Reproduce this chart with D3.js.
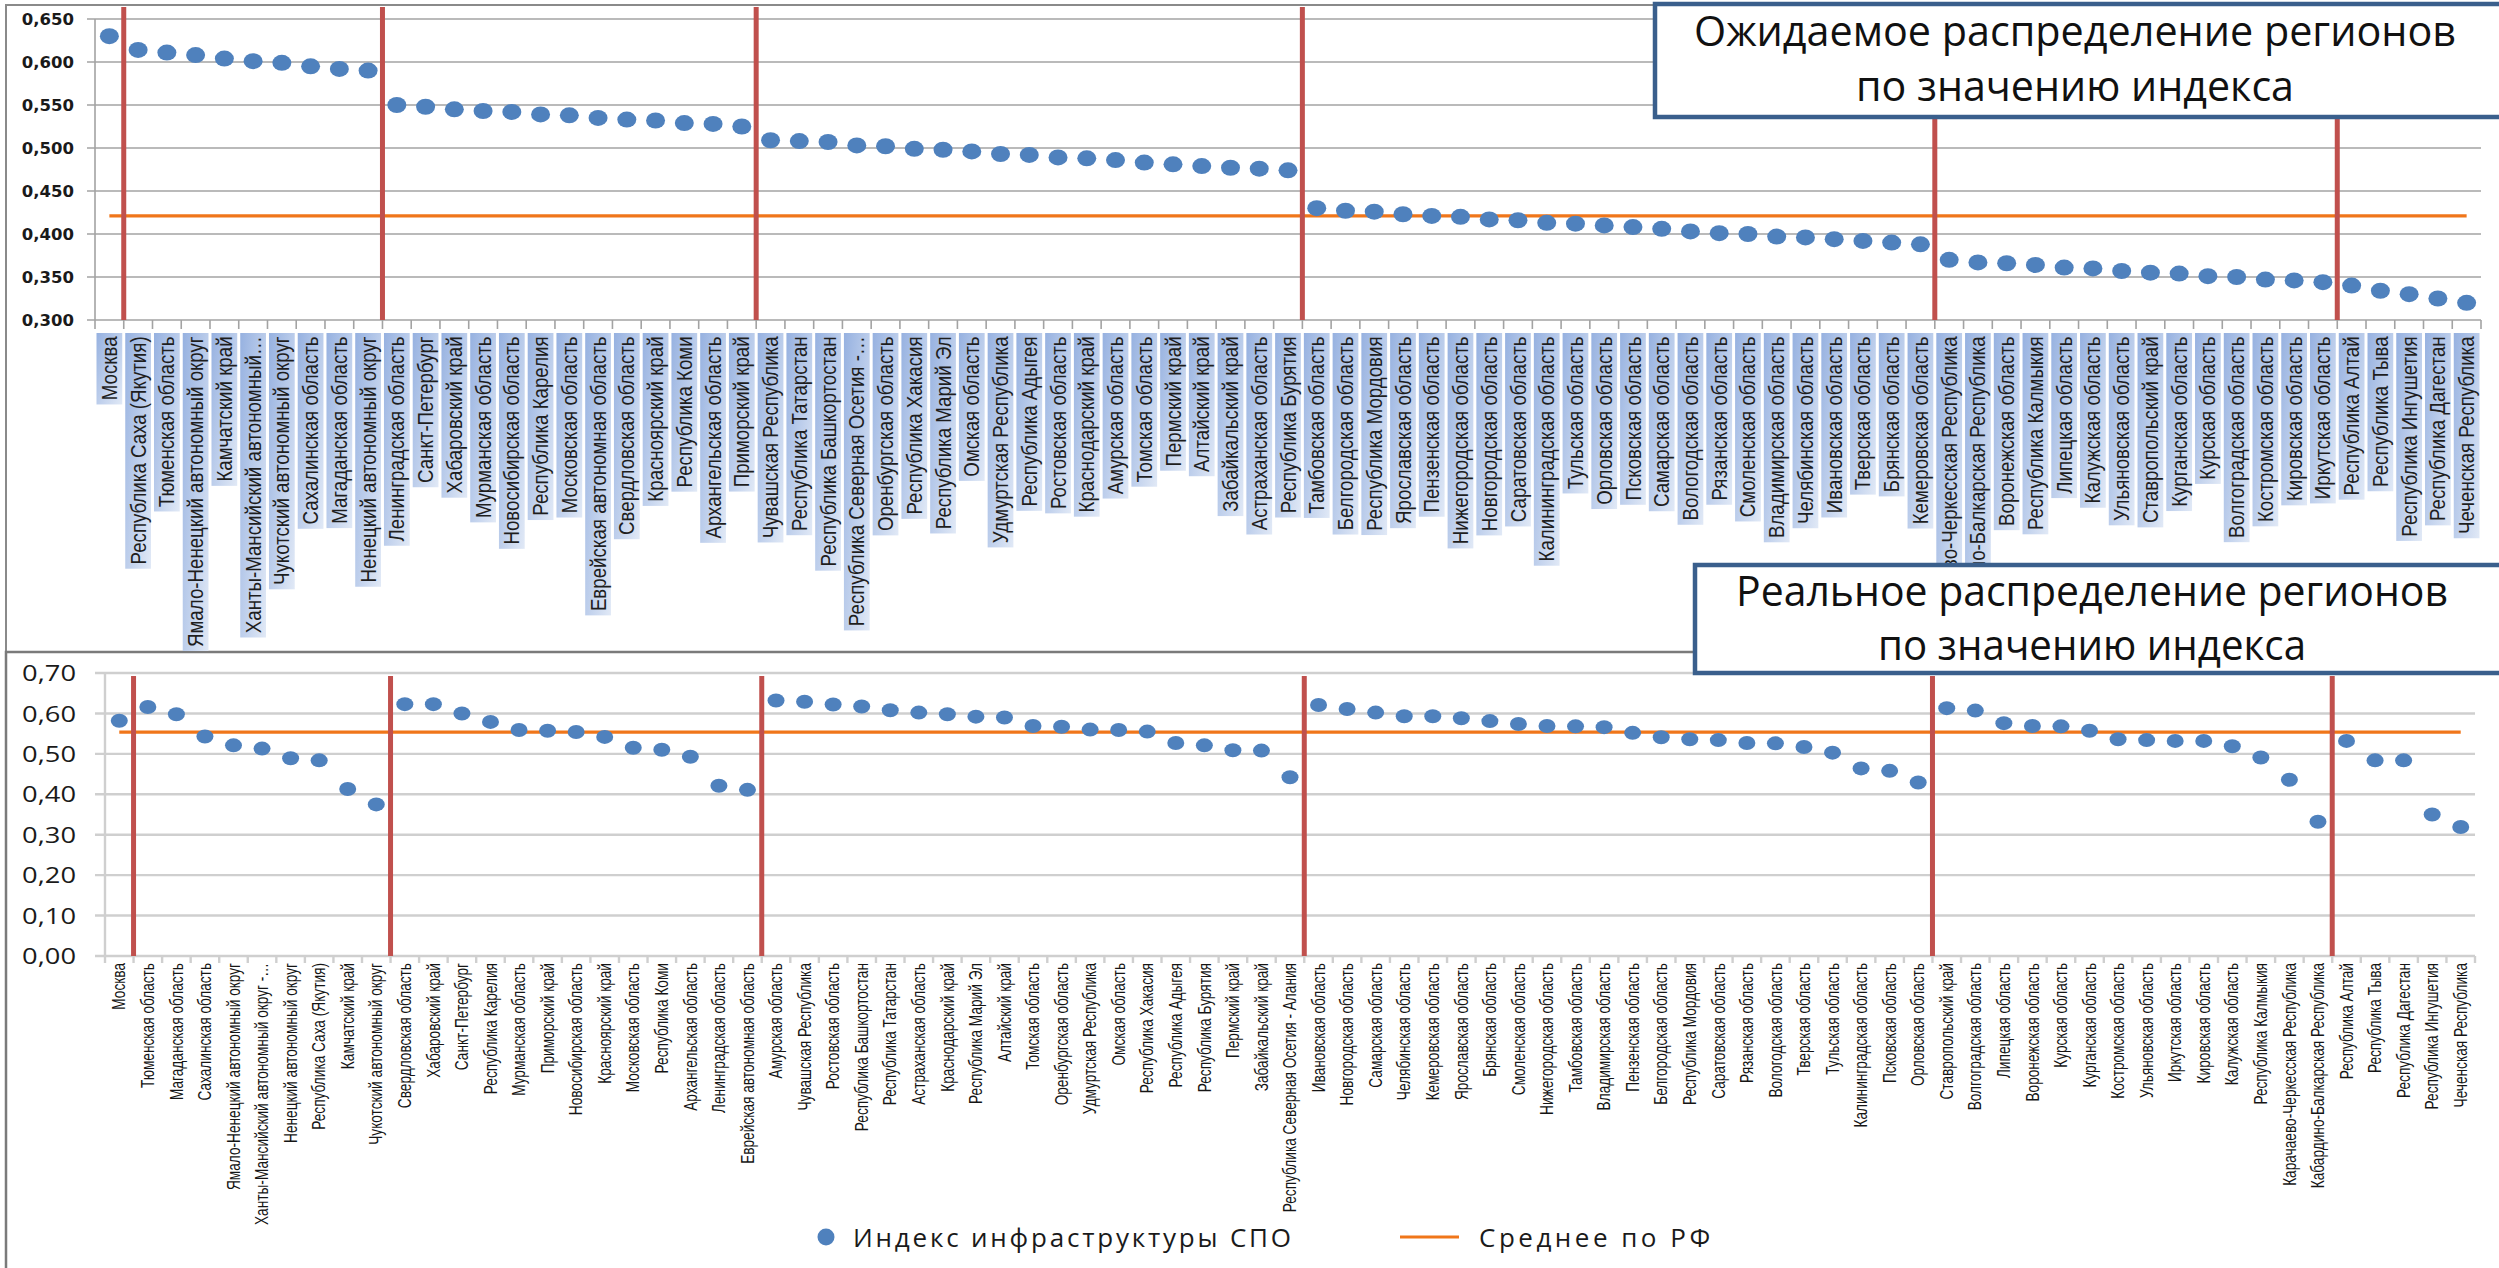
<!DOCTYPE html>
<html><head><meta charset="utf-8">
<script src="https://cdnjs.cloudflare.com/ajax/libs/d3/7.8.5/d3.min.js"></script>
<style>body{margin:0;background:#fff}svg{display:block}</style>
</head><body><svg id="c" width="2499" height="1268"></svg>
<script>
// ---------- DATA ----------
const topCategories = ["Москва","Республика Саха (Якутия)","Тюменская область","Ямало-Ненецкий автономный округ","Камчатский край","Ханты-Мансийский автономный…","Чукотский автономный округ","Сахалинская область","Магаданская область","Ненецкий автономный округ","Ленинградская область","Санкт-Петербург","Хабаровский край","Мурманская область","Новосибирская область","Республика Карелия","Московская область","Еврейская автономная область","Свердловская область","Красноярский край","Республика Коми","Архангельская область","Приморский край","Чувашская Республика","Республика Татарстан","Республика Башкортостан","Республика Северная Осетия -…","Оренбургская область","Республика Хакасия","Республика Марий Эл","Омская область","Удмуртская Республика","Республика Адыгея","Ростовская область","Краснодарский край","Амурская область","Томская область","Пермский край","Алтайский край","Забайкальский край","Астраханская область","Республика Бурятия","Тамбовская область","Белгородская область","Республика Мордовия","Ярославская область","Пензенская область","Нижегородская область","Новгородская область","Саратовская область","Калининградская область","Тульская область","Орловская область","Псковская область","Самарская область","Вологодская область","Рязанская область","Смоленская область","Владимирская область","Челябинская область","Ивановская область","Тверская область","Брянская область","Кемеровская область","Карачаево-Черкесская Республика","Кабардино-Балкарская Республика","Воронежская область","Республика Калмыкия","Липецкая область","Калужская область","Ульяновская область","Ставропольский край","Курганская область","Курская область","Волгоградская область","Костромская область","Кировская область","Иркутская область","Республика Алтай","Республика Тыва","Республика Ингушетия","Республика Дагестан","Чеченская Республика"];
const topValues = [0.630,0.614,0.611,0.608,0.604,0.601,0.599,0.595,0.592,0.590,
0.550,0.548,0.545,0.543,0.542,0.539,0.538,0.535,0.533,0.532,0.529,0.528,0.525,
0.509,0.508,0.507,0.503,0.502,0.499,0.498,0.496,0.493,0.492,0.489,0.488,0.486,0.483,0.481,0.479,0.477,0.476,0.474,
0.430,0.427,0.426,0.423,0.421,0.420,0.417,0.416,0.413,0.412,0.410,0.408,0.406,0.403,0.401,0.400,0.397,0.396,0.394,0.392,0.390,0.388,
0.370,0.367,0.366,0.364,0.361,0.360,0.357,0.355,0.354,0.351,0.350,0.347,0.346,0.344,
0.340,0.334,0.330,0.325,0.320];
const topMean = 0.421;
const topYTicks = [0.30,0.35,0.40,0.45,0.50,0.55,0.60,0.65];
const topDividers = [1,10,23,42,64,78];

const bottomCategories = ["Москва","Тюменская область","Магаданская область","Сахалинская область","Ямало-Ненецкий автономный округ","Ханты-Мансийский автономный округ -…","Ненецкий автономный округ","Республика Саха (Якутия)","Камчатский край","Чукотский автономный округ","Свердловская область","Хабаровский край","Санкт-Петербург","Республика Карелия","Мурманская область","Приморский край","Новосибирская область","Красноярский край","Московская область","Республика Коми","Архангельская область","Ленинградская область","Еврейская автономная область","Амурская область","Чувашская Республика","Ростовская область","Республика Башкортостан","Республика Татарстан","Астраханская область","Краснодарский край","Республика Марий Эл","Алтайский край","Томская область","Оренбургская область","Удмуртская Республика","Омская область","Республика Хакасия","Республика Адыгея","Республика Бурятия","Пермский край","Забайкальский край","Республика Северная Осетия - Алания","Ивановская область","Новгородская область","Самарская область","Челябинская область","Кемеровская область","Ярославская область","Брянская область","Смоленская область","Нижегородская область","Тамбовская область","Владимирская область","Пензенская область","Белгородская область","Республика Мордовия","Саратовская область","Рязанская область","Вологодская область","Тверская область","Тульская область","Калининградская область","Псковская область","Орловская область","Ставропольский край","Волгоградская область","Липецкая область","Воронежская область","Курская область","Курганская область","Костромская область","Ульяновская область","Иркутская область","Кировская область","Калужская область","Республика Калмыкия","Карачаево-Черкесская Республика","Кабардино-Балкарская Республика","Республика Алтай","Республика Тыва","Республика Дагестан","Республика Ингушетия","Чеченская Республика"];
const bottomValues = [0.582,
0.616,0.598,0.543,0.521,0.513,0.489,0.484,0.413,0.375,
0.623,0.623,0.600,0.579,0.559,0.557,0.554,0.542,0.515,0.510,0.493,0.421,0.411,
0.632,0.629,0.622,0.617,0.608,0.602,0.598,0.592,0.590,0.569,0.567,0.560,0.559,0.555,0.527,0.521,0.509,0.508,0.442,
0.621,0.611,0.602,0.593,0.593,0.588,0.581,0.574,0.569,0.568,0.566,0.552,0.541,0.536,0.534,0.527,0.526,0.517,0.503,0.464,0.458,0.429,
0.613,0.607,0.576,0.569,0.568,0.557,0.536,0.534,0.532,0.532,0.519,0.491,0.436,0.332,
0.532,0.484,0.484,0.350,0.319];
const bottomMean = 0.554;
const bottomYTicks = [0,0.1,0.2,0.3,0.4,0.5,0.6,0.7];
const bottomDividers = [1,10,23,42,64,78];

const legendLabels = ["Индекс инфраструктуры СПО","Среднее по РФ"];
const topTitle = ["Ожидаемое распределение регионов","по значению индекса"];
const bottomTitle = ["Реальное распределение регионов","по значению индекса"];

// ---------- DRAW ----------
const svg = d3.select("#c");
const DOT = "#4f81bd", RED = "#c0504d", ORANGE = "#f0761a";
const defs = svg.append("defs");
const gr = defs.append("linearGradient").attr("id","lblGrad")
  .attr("x1","1").attr("y1","0").attr("x2","0").attr("y2","1");
gr.append("stop").attr("offset","0").attr("stop-color","#96b1e0");
gr.append("stop").attr("offset","1").attr("stop-color","#e1e9f6");
defs.append("clipPath").attr("id","topClip").append("rect")
  .attr("x",0).attr("y",0).attr("width",2499).attr("height",651);

// panel frames
svg.append("rect").attr("x",6).attr("y",5).attr("width",2510).attr("height",647)
  .attr("fill","#fff").attr("stroke","#8a8a8a").attr("stroke-width",2);
svg.append("rect").attr("x",6).attr("y",652).attr("width",2510).attr("height",630)
  .attr("fill","#fff").attr("stroke","#7a7a7a").attr("stroke-width",2.5);

function chart(opt){
  const g = svg.append("g");
  const x = d3.scaleBand().domain(opt.cats).range([opt.left,opt.right]);
  const y = d3.scaleLinear().domain(opt.domain).range([opt.bottom,opt.top]);
  const step = x.step();
  g.selectAll(".grid").data(opt.ticks).join("line")
    .attr("x1",opt.left-opt.tickLen).attr("x2",opt.right)
    .attr("y1",d=>y(d)).attr("y2",d=>y(d))
    .attr("stroke",opt.gridColor).attr("stroke-width",opt.gridWidth);
  g.append("line").attr("x1",opt.left).attr("x2",opt.left).attr("y1",opt.top).attr("y2",opt.bottom)
    .attr("stroke",opt.gridColor).attr("stroke-width",opt.gridWidth);
  g.selectAll(".xt").data(d3.range(opt.cats.length+1)).join("line")
    .attr("x1",i=>opt.left+i*step).attr("x2",i=>opt.left+i*step)
    .attr("y1",opt.bottom).attr("y2",opt.bottom+opt.xTickLen)
    .attr("stroke",opt.gridColor).attr("stroke-width",opt.gridWidth);
  g.selectAll(".yl").data(opt.ticks).join("text")
    .attr("transform",d=>`translate(${opt.labelX},${y(d)}) scale(${opt.yLabelScale},1)`)
    .attr("text-anchor","end").attr("dominant-baseline","central")
    .attr("font-family",opt.yFont).attr("font-weight",opt.yWeight).attr("font-size",opt.yFontSize)
    .attr("fill","#1a1a1a")
    .text(d=>d3.format(opt.fmt)(d).replace(".",","));
  const xc = c=>x(c)+step/2;
  g.append("line").attr("x1",xc(opt.cats[0])).attr("x2",xc(opt.cats[opt.cats.length-1]))
    .attr("y1",y(opt.mean)).attr("y2",y(opt.mean))
    .attr("stroke",ORANGE).attr("stroke-width",3.2);
  g.selectAll(".div").data(opt.dividers).join("line")
    .attr("x1",k=>x(opt.cats[k])).attr("x2",k=>x(opt.cats[k]))
    .attr("y1",opt.divTop).attr("y2",opt.bottom)
    .attr("stroke",RED).attr("stroke-width",5);
  g.selectAll(".dot").data(opt.vals).join("ellipse")
    .attr("cx",(d,i)=>xc(opt.cats[i])).attr("cy",d=>y(d))
    .attr("rx",opt.rx).attr("ry",opt.ry).attr("fill",DOT);
  return {x,y,step,g,xc};
}

// ----- top chart -----
const TOPAXIS = 320;
const T = chart({cats:topCategories, vals:topValues, mean:topMean, ticks:topYTicks, dividers:topDividers,
  left:95,right:2481,top:19,bottom:TOPAXIS,domain:[0.30,0.65],tickLen:8,xTickLen:9,
  gridColor:"#a3a3a3",gridWidth:1.6,labelX:74,yLabelScale:1,yFont:"DejaVu Sans",yWeight:"bold",yFontSize:16.5,
  fmt:".3f",divTop:7,rx:9.5,ry:8});
const topLbl = svg.append("g").attr("clip-path","url(#topClip)");
const TS = 0.85;
topCategories.forEach(c=>{
  const lg = topLbl.append("g").attr("transform",`translate(${T.xc(c)},${TOPAXIS+13}) rotate(-90) scale(${TS},1)`);
  const r = lg.append("rect");
  const t = lg.append("text").attr("x",-4).attr("y",0).attr("text-anchor","end")
    .attr("dominant-baseline","central").attr("font-family","Liberation Sans, Arial, sans-serif")
    .attr("font-size",22).attr("fill","#1e1e1e").text(c);
  const len = t.node().getComputedTextLength();
  r.attr("x",-(len+9)).attr("y",-T.step/2+1.5).attr("width",len+9).attr("height",T.step-3)
    .attr("fill","url(#lblGrad)");
});

// ----- bottom chart -----
const B = chart({cats:bottomCategories, vals:bottomValues, mean:bottomMean, ticks:bottomYTicks, dividers:bottomDividers,
  left:105,right:2475,top:673,bottom:956,domain:[0,0.7],tickLen:10,xTickLen:7,
  gridColor:"#cfcfcf",gridWidth:2.4,labelX:76,yLabelScale:1.3,yFont:"Open Sans, Liberation Sans, sans-serif",yWeight:"normal",yFontSize:21,
  fmt:".2f",divTop:676,rx:8.5,ry:7});
bottomCategories.forEach(c=>{
  svg.append("text")
    .attr("transform",`translate(${B.xc(c)},${963}) rotate(-90) scale(0.76,1)`)
    .attr("text-anchor","end").attr("dominant-baseline","central")
    .attr("font-family","Liberation Sans, Arial, sans-serif").attr("font-size",18).attr("fill","#151515")
    .text(c);
});

// ----- legend -----
const lg = svg.append("g").attr("font-family","Open Sans, Liberation Sans, sans-serif").attr("font-size",26).attr("fill","#1a1a1a");
lg.append("circle").attr("cx",826).attr("cy",1237).attr("r",8.5).attr("fill",DOT);
lg.append("text").attr("x",853).attr("y",1237).attr("dominant-baseline","central").attr("letter-spacing",2.8).text(legendLabels[0]);
lg.append("line").attr("x1",1400).attr("x2",1459).attr("y1",1237).attr("y2",1237).attr("stroke",ORANGE).attr("stroke-width",3.2);
lg.append("text").attr("x",1479).attr("y",1237).attr("dominant-baseline","central").attr("letter-spacing",3.5).text(legendLabels[1]);

// ----- title boxes -----
function titleBox(x,y,w,h,lines,baselines,cx,widths,fs){
  const g = svg.append("g");
  g.append("rect").attr("x",x).attr("y",y).attr("width",w).attr("height",h)
    .attr("fill","#fff").attr("stroke","#3a5f8c").attr("stroke-width",4.5);
  lines.forEach((s,i)=>{
    g.append("text").attr("x",cx).attr("y",baselines[i]).attr("text-anchor","middle")
      .attr("font-family","Open Sans, Noto Sans, sans-serif").attr("font-size",fs).attr("fill","#111")
      .attr("textLength",widths[i]).attr("lengthAdjust","spacingAndGlyphs").text(s);
  });
}
titleBox(1655,4,860,113,topTitle,[46,101],2075,[762,438],42);
titleBox(1695,565,820,108,bottomTitle,[606,660],2092,[712,428],42);
</script></body></html>
